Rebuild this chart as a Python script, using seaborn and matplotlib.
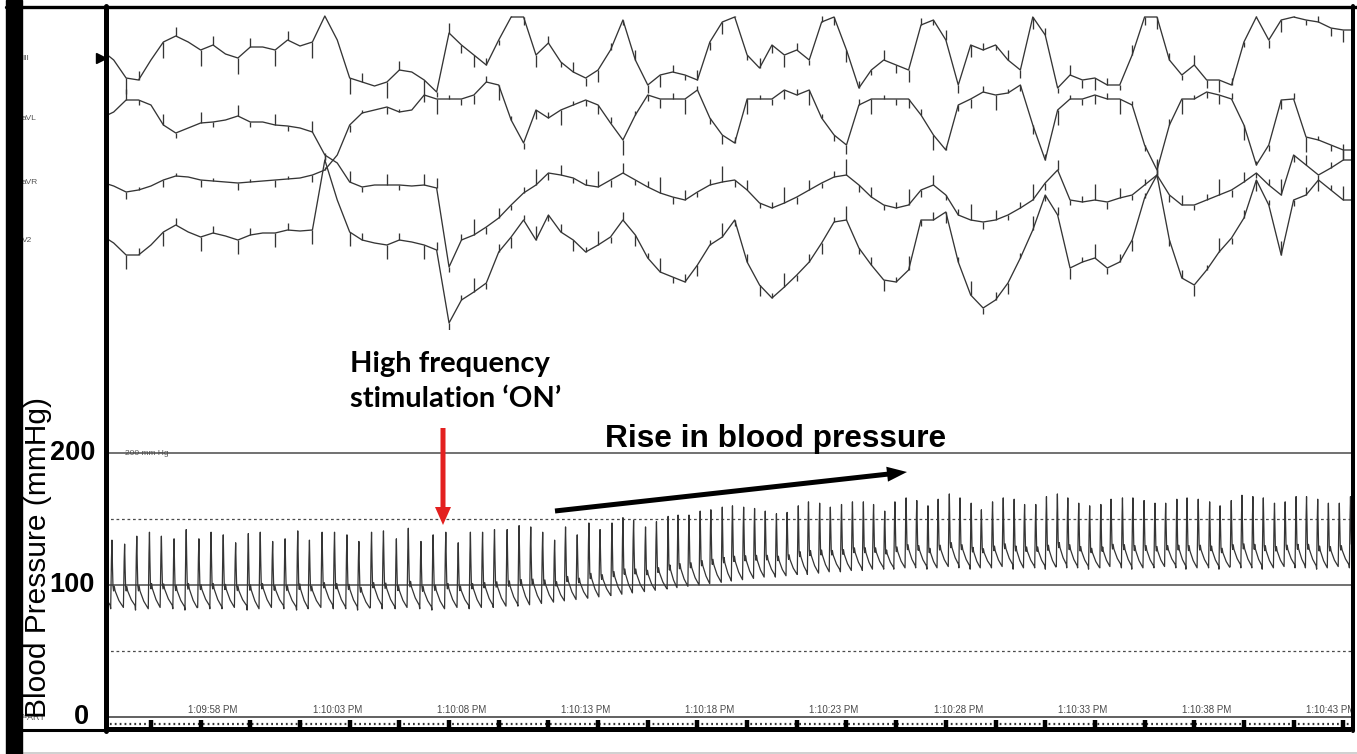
"""
Arterial pressure / ECG trace during high frequency stimulation
"""

import numpy as np
import pandas as pd
import matplotlib
matplotlib.use("Agg")
import matplotlib.pyplot as plt
from matplotlib.patches import Rectangle
from matplotlib.transforms import blended_transform_factory
import seaborn as sns

sns.set_style("white")
plt.rcParams["font.family"] = ["Liberation Sans", "DejaVu Sans"]

W, H, DPI = 1357, 754, 100

# ---------------------------------------------------------------- data
# time is in seconds after 1:09:58 PM

# arterial pressure, one entry per beat (time of the systolic peak)
bp_beat_time = [
    -4.57, -4.07, -3.56, -3.07, -2.56, -2.08, -1.57, -1.08, -0.57, -0.08,
    0.41, 0.91, 1.42, 1.90, 2.40, 2.90, 3.41, 3.88, 4.39, 4.89,
    5.39, 5.87, 6.38, 6.86, 7.38, 7.86, 8.37, 8.86, 9.37, 9.87,
    10.36, 10.85, 11.33, 11.84, 12.32, 12.79, 13.27, 13.75, 14.19, 14.66,
    15.13, 15.58, 16.06, 16.50, 16.93, 17.41, 17.85, 18.32, 18.72, 19.16,
    19.61, 20.04, 20.50, 20.91, 21.36, 21.80, 22.23, 22.68, 23.11, 23.56,
    23.97, 24.42, 24.85, 25.30, 25.74, 26.18, 26.59, 27.04, 27.45, 27.90,
    28.33, 28.78, 29.19, 29.64, 30.07, 30.52, 30.93, 31.38, 31.81, 32.25,
    32.67, 33.12, 33.55, 33.99, 34.41, 34.85, 35.29, 35.74, 36.15, 36.61,
    37.03, 37.48, 37.92, 38.35, 38.80, 39.21, 39.66, 40.12, 40.54, 40.99,
    41.42, 41.86, 42.28, 42.73, 43.16, 43.60, 44.02, 44.47, 44.90, 45.34,
    45.79,
]
bp_systolic = [
    136, 134, 131, 137, 140, 137, 135, 142, 135, 140,
    138, 132, 139, 140, 133, 135, 141, 134, 140, 140,
    138, 133, 140, 141, 135, 143, 133, 138, 140, 132,
    140, 140, 142, 142, 145, 144, 140, 134, 144, 138,
    147, 142, 147, 151, 149, 144, 148, 152, 153, 153,
    156, 157, 159, 160, 159, 158, 156, 154, 155, 160,
    163, 162, 159, 161, 163, 163, 161, 156, 163, 166,
    164, 160, 165, 169, 166, 162, 157, 163, 166, 165,
    161, 161, 167, 169, 166, 162, 160, 161, 165, 166,
    166, 164, 162, 162, 165, 166, 165, 163, 160, 164,
    168, 167, 166, 162, 163, 167, 167, 165, 162, 162,
    167,
]
bp_diastolic = [
    83, 82, 83, 81, 82, 83, 82, 81, 83, 82,
    82, 83, 81, 82, 83, 82, 81, 82, 83, 82,
    82, 81, 83, 82, 82, 83, 82, 81, 82, 83,
    82, 83, 83, 84, 84, 85, 86, 87, 88, 89,
    90, 91, 92, 93, 94, 95, 96, 97, 98, 99,
    100, 101, 102, 103, 104, 105, 106, 106, 107, 108,
    108, 109, 110, 110, 111, 111, 112, 112, 112, 113,
    113, 112, 113, 114, 113, 112, 113, 113, 114, 112,
    113, 113, 112, 114, 113, 113, 112, 113, 114, 113,
    112, 113, 113, 114, 113, 112, 113, 113, 112, 114,
    113, 113, 112, 113, 114, 113, 113, 112, 113, 114,
    113,
]

# pulse contour: phase (fraction of the beat interval, 0 = peak) and level (0 = diastolic, 1 = systolic)
pulse_phase = [-0.10, -0.04, 0.0, 0.04, 0.08, 0.13, 0.18, 0.25, 0.55, 0.86]
pulse_shape = [0.0, 0.72, 1.0, 0.62, 0.33, 0.26, 0.33, 0.26, 0.12, 0.03]

# ECG, sampled every 0.5 s from -4.5 s, mV relative to the lead baseline
ecg_leads = ["III", "aVL", "aVR", "V2"]
ecg_III = [
    0.20, 0.10, -0.08, -0.10, 0.10, 0.28, 0.34, 0.28, 0.20, 0.25,
    0.16, 0.12, 0.23, 0.23, 0.20, 0.30, 0.24, 0.28, 0.54, 0.30,
    -0.08, -0.12, -0.16, -0.12, 0.00, -0.02, -0.10, -0.22, 0.37, 0.25,
    0.15, 0.05, 0.30, 0.53, 0.53, 0.15, 0.27, 0.08, -0.02, -0.08,
    0.00, 0.20, 0.50, 0.10, -0.15, -0.05, -0.02, -0.05, -0.10, 0.28,
    0.48, 0.53, 0.15, 0.02, 0.25, 0.15, 0.20, 0.10, 0.48, 0.53,
    0.20, -0.18, 0.00, 0.10, 0.05, 0.00, 0.45, 0.50, 0.30, -0.15,
    0.25, 0.20, 0.25, 0.10, 0.00, 0.53, 0.35, -0.18, -0.05, -0.10,
    -0.08, -0.15, -0.15, 0.15, 0.53, 0.53, 0.10, -0.05, 0.05, -0.10,
    -0.10, -0.15, 0.28, 0.53, 0.30, 0.50, 0.53, 0.50, 0.48, 0.42,
    0.40, 0.40,
]
ecg_aVL = [
    0.07, 0.13, 0.25, 0.25, 0.20, 0.00, -0.08, -0.03, 0.02, 0.03,
    0.05, 0.09, 0.03, 0.03, 0.00, -0.01, -0.03, -0.07, -0.30, -0.38,
    -0.57, -0.62, -0.60, -0.60, -0.60, -0.61, -0.60, -0.63, -1.42, -1.15,
    -1.10, -1.02, -0.93, -0.80, -0.68, -0.60, -0.48, -0.50, -0.53, -0.60,
    -0.62, -0.55, -0.48, -0.55, -0.62, -0.68, -0.72, -0.75, -0.67, -0.60,
    -0.57, -0.55, -0.65, -0.78, -0.83, -0.78, -0.72, -0.65, -0.58, -0.52,
    -0.50, -0.60, -0.72, -0.80, -0.83, -0.80, -0.65, -0.60, -0.70, -0.90,
    -0.95, -0.97, -0.95, -0.90, -0.83, -0.75, -0.58, -0.45, -0.75, -0.77,
    -0.75, -0.77, -0.73, -0.70, -0.60, -0.50, -0.70, -0.80, -0.80, -0.75,
    -0.70, -0.65, -0.57, -0.48, -0.60, -0.70, -0.30, -0.40, -0.50, -0.43,
    -0.35, -0.35,
]
ecg_aVR = [
    0.03, -0.01, -0.07, -0.05, -0.01, 0.05, 0.09, 0.08, 0.05, 0.04,
    0.03, 0.02, 0.03, 0.04, 0.05, 0.06, 0.07, 0.10, 0.15, 0.30,
    0.60, 0.72, 0.75, 0.78, 0.73, 0.75, 0.90, 0.86, 0.86, 0.86,
    0.90, 1.03, 1.00, 0.65, 0.42, 0.75, 0.67, 0.75, 0.80, 0.85,
    0.80, 0.62, 0.45, 0.70, 0.90, 0.86, 0.86, 0.86, 0.95, 0.67,
    0.50, 0.42, 0.86, 0.86, 0.86, 0.95, 0.90, 0.95, 0.67, 0.50,
    0.40, 0.80, 0.86, 0.86, 0.86, 0.86, 0.70, 0.50, 0.35, 0.80,
    0.86, 0.93, 0.90, 0.92, 1.00, 0.60, 0.25, 0.75, 0.86, 0.86,
    0.90, 0.86, 0.86, 0.80, 0.40, 0.15, 0.60, 0.86, 0.86, 0.93,
    0.90, 0.86, 0.60, 0.20, 0.40, 0.85, 0.86, 0.48, 0.45, 0.40,
    0.35, 0.35,
]
ecg_V2 = [
    0.10, 0.02, -0.10, -0.10, 0.00, 0.13, 0.20, 0.13, 0.08, 0.12,
    0.09, 0.05, 0.10, 0.12, 0.12, 0.15, 0.14, 0.15, 0.85, 0.45,
    0.13, 0.05, 0.02, 0.00, 0.05, 0.03, 0.00, -0.05, -0.78, -0.55,
    -0.47, -0.38, -0.07, 0.08, 0.25, 0.05, 0.30, 0.13, 0.05, -0.07,
    0.00, 0.08, 0.25, 0.10, -0.13, -0.27, -0.32, -0.37, -0.20, 0.00,
    0.08, 0.25, -0.17, -0.40, -0.53, -0.42, -0.30, -0.17, 0.02, 0.23,
    0.25, -0.03, -0.20, -0.35, -0.37, -0.25, 0.25, 0.25, 0.33, -0.17,
    -0.50, -0.63, -0.55, -0.38, -0.13, 0.15, 0.50, 0.30, -0.23, -0.17,
    -0.13, -0.23, -0.17, 0.05, 0.47, 0.70, 0.05, -0.33, -0.40, -0.25,
    -0.07, 0.07, 0.27, 0.65, 0.40, -0.10, 0.45, 0.50, 0.65, 0.55,
    0.45, 0.45,
]
ecg_values = {"III": ecg_III, "aVL": ecg_aVL, "aVR": ecg_aVR, "V2": ecg_V2}

# QRS / stimulus spike heights (mV) before and during stimulation
ecg_spike_pre = {"III": [-0.16, 0.09, 0.0], "aVL": [0.11, -0.05, 0.0],
                 "aVR": [-0.07, 0.03, 0.0], "V2": [-0.14, 0.07, 0.0]}
ecg_spike_post = {"III": [-0.12, 0.07, -0.05, 0.10, -0.08], "aVL": [0.16, -0.07, 0.10, -0.05, 0.06],
                  "aVR": [-0.09, 0.06, -0.15, 0.04, -0.06], "V2": [0.14, -0.06, 0.08, -0.11, 0.05]}

bp_ticks = [0, 100, 200]
bp_ref_solid = [100, 200]
bp_ref_dashed = [50, 150]
time_label_sec = [0, 5, 10, 15, 20, 25, 30, 35, 40, 45]
time_labels = ["1:09:58 PM", "1:10:03 PM", "1:10:08 PM", "1:10:13 PM", "1:10:18 PM",
               "1:10:23 PM", "1:10:28 PM", "1:10:33 PM", "1:10:38 PM", "1:10:43 PM"]

# ---------------------------------------------------------------- layout / style
T_LEFT, T_RIGHT = -4.35, 45.81
TRACE = "#353535"
GRID = "#4a4a4a"
RED = "#e3201f"
lead_offset = {"III": -0.70, "aVL": -1.25, "aVR": -1.85, "V2": -2.45}
lead_label_y = {"III": 58, "aVL": 118, "aVR": 183, "V2": 240}


def box(x0, y0, x1, y1):
    """pixel box (top-left origin) -> figure fraction rect"""
    return [x0 / W, 1 - y1 / H, (x1 - x0) / W, (y1 - y0) / H]


fig = plt.figure(figsize=(W / DPI, H / DPI), dpi=DPI)
fig.patch.set_facecolor("white")

ax_ecg = fig.add_axes(box(105, 8, 1351, 330))
ax_bp = fig.add_axes(box(105, 330, 1351, 717))
ax_tb = fig.add_axes(box(105, 717, 1351, 732))
ax_ov = fig.add_axes([0, 0, 1, 1])

for ax in (ax_ecg, ax_bp, ax_tb):
    ax.set_xlim(T_LEFT, T_RIGHT)
    ax.axis("off")
    ax.patch.set_alpha(0)
ax_ecg.set_ylim(-3.30, -0.08)
ax_bp.set_ylim(0, 293.2)
ax_tb.set_ylim(732, 717)
ax_ov.set_xlim(0, W)
ax_ov.set_ylim(H, 0)
ax_ov.axis("off")
ax_ov.patch.set_alpha(0)
ax_ov.set_zorder(10)

# ---------------------------------------------------------------- ECG
ecg_time = np.arange(len(ecg_III)) * 0.5 - 4.5
for lead in ecg_leads:
    y = lead_offset[lead] + np.array(ecg_values[lead])
    sns.lineplot(x=ecg_time, y=y, ax=ax_ecg, color=TRACE, lw=0.95,
                 estimator=None, sort=False, legend=False)
    amps = np.array([ecg_spike_pre[lead][(k - 8) % 3] if t < 8.75
                     else ecg_spike_post[lead][k % 5]
                     for k, t in enumerate(ecg_time)])
    tops = y + amps
    if lead == "III":
        tops = np.clip(tops, -0.99, -0.16)
    ax_ecg.vlines(ecg_time, y, tops, color=TRACE, lw=0.95)

# ---------------------------------------------------------------- blood pressure
bp_t, bp_p = [], []
n = len(bp_beat_time)
for i in range(n):
    tb = bp_beat_time[i]
    rr = (bp_beat_time[i + 1] - tb) if i + 1 < n else (tb - bp_beat_time[i - 1])
    for ph, sh in zip(pulse_phase, pulse_shape):
        bp_t.append(tb + ph * rr)
        bp_p.append(bp_diastolic[i] + sh * (bp_systolic[i] - bp_diastolic[i]))
bp_df = pd.DataFrame({"time": bp_t, "pressure": bp_p})

for v in bp_ref_solid:
    ax_bp.axhline(v, color=GRID, lw=1.1, zorder=2)
for v in bp_ref_dashed:
    ax_bp.axhline(v, color=GRID, lw=0.9, ls=(0, (2.2, 2.2)), zorder=2)
ax_bp.axhline(0, color="#606060", lw=1.4, clip_on=False)

sns.lineplot(data=bp_df, x="time", y="pressure", ax=ax_bp, color=TRACE, lw=0.9,
             estimator=None, sort=False, legend=False, zorder=3)

for t, lab in zip(time_label_sec, time_labels):
    ax_bp.text(t, 5.3, lab, ha="center", va="center", fontsize=7, color="#4a4a4a", clip_on=True)

# time bar
ax_tb.hlines(728.5, T_LEFT, T_RIGHT, color="black", lw=3.6)
ax_tb.hlines(724.0, T_LEFT, T_RIGHT, color="#333333", lw=1.6, ls=(0, (0.8, 1.4)))
ax_tb.vlines(np.arange(-2.5, 46.0, 2.0), 719.5, 728, color="black", lw=3.2)

# ---------------------------------------------------------------- frame and annotations
px_bp = blended_transform_factory(ax_ov.transData, ax_bp.transData)

ax_bp.text(125, 200, "200 mm Hg", transform=px_bp, fontsize=6, color="#555555",
           va="center", ha="left", zorder=1)

ax_ov.text(18, 717, "P-ART", fontsize=6.5, color="#555555", va="center", ha="left")
for lead in ecg_leads:
    ax_ov.text(22, lead_label_y[lead], lead, fontsize=6, color="#555555", va="center", ha="left")
ax_ov.plot(101, 58, marker=">", ms=7, color="black", mec="black")

ax_ov.add_patch(Rectangle((6, 0), 16, H, color="black", zorder=5))
ax_ov.plot([6, W], [6.5, 6.5], color="black", lw=2.4)
ax_ov.plot([1352.5, 1352.5], [6, 731], color="black", lw=2.9)
ax_ov.plot([105.5, 105.5], [6, 731], color="black", lw=3.6)
ax_ov.plot([22, 105], [729.5, 729.5], color="black", lw=2.2)
ax_ov.plot([22, W], [752.5, 752.5], color="#c8c8c8", lw=1.2)

tick_x = {0: 89, 100: 95, 200: 95}
for v in bp_ticks:
    ax_bp.text(tick_x[v], v, str(v), transform=px_bp, ha="right", va="center",
               fontsize=19.5, fontweight="bold", color="black", clip_on=False, zorder=6)

ax_ov.text(38, 558, "Blood Pressure (mmHg)", rotation=90, ha="center", va="center",
           fontsize=21.5, color="black")

ax_ov.text(350, 372, "High frequency", ha="left", va="baseline", fontsize=21,
           fontweight="bold", family=["Lato", "DejaVu Sans"], color="black")
ax_ov.text(350, 407, "stimulation \u2018ON\u2019", ha="left", va="baseline", fontsize=21,
           fontweight="bold", family=["Lato", "DejaVu Sans"], color="black")
ax_ov.text(605, 447, "Rise in blood pressure", ha="left", va="baseline", fontsize=22.8,
           fontweight="bold", color="black")

ax_ov.arrow(443, 428, 0, 97, width=5, head_width=16, head_length=18,
            length_includes_head=True, color=RED, lw=0)
ax_ov.arrow(555, 511, 352, -39, width=5, head_width=15, head_length=20,
            length_includes_head=True, color="black", lw=0)

fig.savefig("out.png", dpi=DPI, facecolor="white")
